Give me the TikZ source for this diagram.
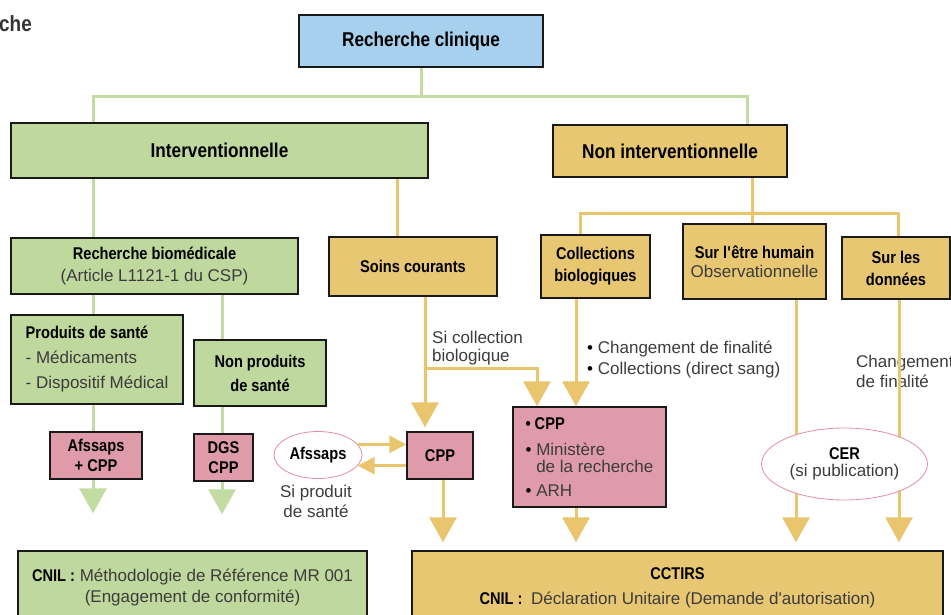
\documentclass[tikz,border=0pt]{standalone}
\usepackage{fontspec}
\setmainfont{Liberation Sans}[BoldFeatures={FakeStretch=0.86}]
\usetikzlibrary{arrows.meta, shapes.geometric}

\definecolor{bleuclair}{HTML}{A7D0EF}
\definecolor{vertboite}{HTML}{BFD89D}
\definecolor{orboite}{HTML}{E8C772}
\definecolor{roseboite}{HTML}{DF9BAA}
\definecolor{vertligne}{HTML}{C3DCA3}
\definecolor{orligne}{HTML}{E9C66E}
\definecolor{roseligne}{HTML}{E58EA3}
\definecolor{gristexte}{HTML}{3C3C3C}

\newcommand{\txtgris}[1]{\textcolor{gristexte}{#1}}

\tikzset{
	boite/.style = {draw = black!90, line width = 1.4pt, inner sep = 0pt, align = center, font = \fontsize{17}{22}\selectfont},
	grand/.style = {font = \fontsize{20}{24}\selectfont\bfseries},
	etiq/.style = {inner sep = 0pt, text = gristexte, font = \fontsize{17}{20}\selectfont},
	bulle/.style = {ellipse, draw = roseligne, line width = 0.8pt, fill = white, inner sep = 0pt, align = center, font = \fontsize{17}{17}\selectfont},
	lvert/.style = {draw = vertligne, line width = 3pt},
	lor/.style = {draw = orligne, line width = 3pt},
	fleche/.style = {-{Triangle[width = 27pt, length = 25pt]}},
	petitefleche/.style = {-{Triangle[width = 17pt, length = 17pt]}}
}

\begin{document}
\begin{tikzpicture}[x = 1pt, y = -1pt]

	\useasboundingbox (0, 0) rectangle (951, 615);

	\node[anchor = base west, inner sep = 0pt, text = black!80, font = \fontsize{22}{24}\selectfont\bfseries] (titre) at (-1, 32) {che};

	% Boîtes
	\node[boite, grand, fill = bleuclair, minimum width = 244pt, minimum height = 52pt] (clin) at (421, 41) {Recherche clinique};
	\node[boite, grand, fill = vertboite, minimum width = 417pt, minimum height = 55pt] (interv) at (219.5, 150.5) {Interventionnelle};
	\node[boite, grand, fill = orboite, minimum width = 234pt, minimum height = 52pt] (noninterv) at (670, 151) {Non interventionnelle};

	\node[boite, fill = vertboite, minimum width = 287pt, minimum height = 56pt] (biomed) at (154.5, 266) {\textbf{Recherche biomédicale}\\\txtgris{(Article L1121-1 du CSP)}};
	\node[boite, fill = orboite, minimum width = 168pt, minimum height = 59pt] (soins) at (413, 266.5) {\textbf{Soins courants}};
	\node[boite, fill = orboite, minimum width = 109pt, minimum height = 63pt] (collec) at (595.5, 266.5) {\textbf{Collections}\\\textbf{biologiques}};
	\node[boite, fill = orboite, minimum width = 143pt, minimum height = 75pt] (humain) at (754.5, 261.5) {\textbf{Sur l\textquotesingle être humain}\\[-3pt]\txtgris{Observationnelle}};
	\node[boite, fill = orboite, minimum width = 108pt, minimum height = 62pt] (donnees) at (896, 268) {\textbf{Sur les}\\\textbf{données}};

	\node[boite, fill = vertboite, minimum width = 172pt, minimum height = 89pt, align = left, font = \fontsize{17}{25}\selectfont] (produits) at (97, 359.5) {\textbf{Produits de santé}\\\txtgris{- Médicaments}\\\txtgris{- Dispositif Médical}};
	\node[boite, fill = vertboite, minimum width = 132pt, minimum height = 66pt, font = \fontsize{17}{24}\selectfont] (nonprod) at (260, 373) {\textbf{Non produits}\\\textbf{de santé}};

	\node[boite, fill = roseboite, minimum width = 92pt, minimum height = 47pt, font = \fontsize{17}{20}\selectfont] (afsCPP) at (96, 455.5) {\textbf{Afssaps}\\\textbf{+ CPP}};
	\node[boite, fill = roseboite, minimum width = 59pt, minimum height = 47pt, font = \fontsize{17}{20}\selectfont] (dgs) at (223.5, 457.5) {\textbf{DGS}\\\textbf{CPP}};
	\node[bulle, minimum width = 88pt, minimum height = 47pt] (afsEll) at (318, 455) {\textbf{Afssaps}};
	\node[boite, fill = roseboite, minimum width = 66pt, minimum height = 47pt] (cpp) at (440, 455.5) {\textbf{CPP}};
	\node[boite, fill = roseboite, minimum width = 153pt, minimum height = 100pt, align = left, font = \fontsize{17}{17}\selectfont] (autor) at (589.5, 457) {\textbf{• CPP}\\[9pt]• \txtgris{Ministère}\\\txtgris{\phantom{• }de la recherche}\\[7pt]• \txtgris{ARH}};

	\node[boite, fill = vertboite, minimum width = 349pt, minimum height = 74pt, font = \fontsize{17}{21}\selectfont] (cnil) at (192.5, 588) {\textbf{CNIL :} \txtgris{Méthodologie de Référence MR 001}\\\txtgris{(Engagement de conformité)}};
	\node[boite, fill = orboite, minimum width = 531pt, minimum height = 74pt, font = \fontsize{17}{25}\selectfont] (cctirs) at (677.5, 588) {\textbf{CCTIRS}\\\textbf{CNIL :}\enspace\txtgris{Déclaration Unitaire (Demande d\textquotesingle autorisation)}};

	% Textes
	\node[etiq, anchor = north west, align = left, font = \fontsize{17}{18}\selectfont] (sicoll) at (432, 330.5) {Si collection\\biologique};
	\node[etiq, anchor = north west, align = left, font = \fontsize{17}{21}\selectfont] (finalite) at (587, 340.5) {\textcolor{black}{•} Changement de finalité\\\textcolor{black}{•} Collections (direct sang)};
	\node[etiq, anchor = north west, align = left] (chgt) at (856, 354.5) {Changement\\de finalité};
	\node[etiq, anchor = north, align = center] (siprod) at (316, 484.5) {Si produit\\de santé};

	% Liaisons
	\coordinate (gl) at (93, 97);
	\coordinate (gr) at (747, 97);
	\coordinate (gm) at (222, 0);
	\coordinate (so) at (397, 0);
	\coordinate (ocl) at (580, 213);
	\coordinate (oj) at (752, 213);
	\coordinate (ocr) at (898, 213);
	\coordinate (sc) at (425, 368);
	\coordinate (sb) at (537, 368);
	\coordinate (cb) at (576, 0);
	\coordinate (cp) at (443, 0);
	\coordinate (hu) at (796, 0);
	\coordinate (do) at (899, 0);

	\draw[lvert] (clin.south) -- (clin.south |- gl);
	\draw[lvert] (interv.north -| gl) -- (gl) -- (gr) -- (noninterv.north -| gr);
	\draw[lvert] (interv.south -| gl) -- (biomed.north -| gl);
	\draw[lor] (interv.south -| so) -- (soins.north -| so);
	\draw[lor] (noninterv.south -| oj) -- (humain.north -| oj);
	\draw[lor] (collec.north -| ocl) -- (ocl) -- (ocr) -- (donnees.north -| ocr);

	\draw[lvert] (biomed.south -| gl) -- (produits.north -| gl);
	\draw[lvert] (biomed.south -| gm) -- (nonprod.north -| gm);
	\draw[lvert] (produits.south -| gl) -- (afsCPP.north -| gl);
	\draw[lvert] (nonprod.south -| gm) -- (dgs.north -| gm);
	\draw[lvert, fleche, shorten >= 37pt] (afsCPP.south -| gl) -- (cnil.north -| gl);
	\draw[lvert, fleche, shorten >= 36pt] (dgs.south -| gm) -- (cnil.north -| gm);

	\draw[lor, fleche, shorten >= 4pt] (soins.south -| sc) -- (cpp.north -| sc);
	\draw[lor, fleche] (sc) -- (sb) -- (autor.north -| sb);
	\draw[lor, fleche] (collec.south -| cb) -- (autor.north -| cb);
	\draw[lor, petitefleche] (afsEll.15) -- (afsEll.15 -| cpp.west);
	\draw[lor, petitefleche] (cpp.west |- afsEll.-15) -- (afsEll.-15);

	\draw[lor, fleche, shorten >= 8pt] (cpp.south -| cp) -- (cctirs.north -| cp);
	\draw[lor, fleche, shorten >= 8pt] (autor.south -| cb) -- (cctirs.north -| cb);
	\draw[lor, fleche, shorten >= 8pt] (humain.south -| hu) -- (cctirs.north -| hu);
	\draw[lor, fleche, shorten >= 8pt] (donnees.south -| do) -- (cctirs.north -| do);

	\node[bulle, minimum width = 166pt, minimum height = 72pt] (cer) at (844.5, 464) {\textbf{CER}\\\txtgris{(si publication)}};

\end{tikzpicture}
\end{document}
